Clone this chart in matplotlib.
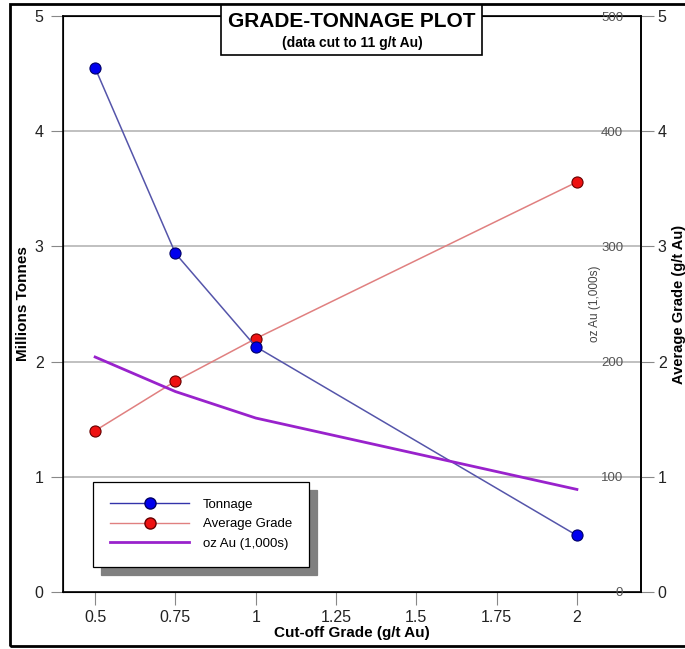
import matplotlib.pyplot as plt
from matplotlib.lines import Line2D
from matplotlib.patches import Rectangle

cutoff = [0.5, 0.75, 1, 2]
tonnage = [4.55, 2.94, 2.13, 0.49]
avg_grade = [1.40, 1.83, 2.20, 3.56]
oz_au = [204, 174, 151, 89]

x_ticks = [0.5, 0.75, 1, 1.25, 1.5, 1.75, 2]
x_ticklabels = ['0.5', '0.75', '1', '1.25', '1.5', '1.75', '2']

plt.rcParams['font.family'] = ['Liberation Sans', 'DejaVu Sans']

fig = plt.figure(figsize=(6.85, 6.49), dpi=100)
ax = fig.add_axes([0.092, 0.088, 0.844, 0.887])

ax.set_xlim(0.4, 2.2)
ax.set_ylim(0, 5)
ax.set_yticks(range(6))
ax.set_xticks(x_ticks)
ax.set_xticklabels(x_ticklabels)
ax.tick_params(axis='both', labelsize=11.5, length=9, color='#888888', labelcolor='#222222')
ax.tick_params(axis='x', pad=4)
ax.tick_params(axis='y', pad=5)
for y in range(1, 5):
    ax.axhline(y, color='#bbbbbb', lw=1.3, zorder=0)
for s in ['left', 'bottom', 'top', 'right']:
    ax.spines[s].set_linewidth(1.2)
ax.set_ylabel('Millions Tonnes', fontsize=11, fontweight='bold', labelpad=3)
ax.set_xlabel('Cut-off Grade (g/t Au)', fontsize=11, fontweight='bold', labelpad=1)

# right axis: average grade
ax_g = ax.twinx()
ax_g.set_ylim(0, 5)
ax_g.set_yticks(range(6))
ax_g.tick_params(axis='y', labelsize=11.5, length=9, color='#888888', labelcolor='#222222', pad=3)
ax_g.spines['right'].set_linewidth(1.2)
ax_g.set_ylabel('Average Grade (g/t Au)', fontsize=10.5, fontweight='bold', labelpad=4)

# inner axis: oz Au
ax_oz = ax.twinx()
ax_oz.set_ylim(0, 500)
ax_oz.set_yticks([0, 100, 200, 300, 400, 500])
ax_oz.yaxis.set_ticks_position('left')
ax_oz.yaxis.set_label_position('left')
ax_oz.spines['left'].set_position(('axes', 1.0))
for s in ax_oz.spines.values():
    s.set_visible(False)
ax_oz.tick_params(axis='y', length=0, labelsize=9.5, labelcolor='#555555', pad=13)
ax_oz.set_ylabel('oz Au (1,000s)', fontsize=8.5, color='#444444', labelpad=0)

ax_oz.plot(cutoff, oz_au, color='#9922cc', lw=2, zorder=2)
ax_g.plot(cutoff, avg_grade, color='#e08080', lw=1.1, marker='o', ms=8,
          mfc='#ee1111', mec='#660000', mew=0.8, zorder=3)
ax_g.plot(cutoff, tonnage, color='#5555aa', lw=1.1, marker='o', ms=8,
          mfc='#0000ee', mec='#000066', mew=0.8, zorder=3)

handles = [
    Line2D([], [], color='#3333aa', lw=1, marker='o', ms=8, mfc='#0000ee', mec='#000066'),
    Line2D([], [], color='#e08080', lw=1, marker='o', ms=8, mfc='#ee1111', mec='#660000'),
    Line2D([], [], color='#9922cc', lw=2),
]
leg = ax_g.legend(handles, ['Tonnage', 'Average Grade', 'oz Au (1,000s)'],
                  loc='lower left', bbox_to_anchor=(0.052, 0.043), borderaxespad=0,
                  fontsize=9.5, handlelength=6.0, handletextpad=1.0, labelspacing=0.55,
                  borderpad=1.3, fancybox=False, edgecolor='black', framealpha=1,
                  shadow={'ox': 6, 'oy': -6, 'color': '#808080', 'alpha': 1})
leg.get_frame().set_linewidth(0.9)

# outer frame
fig.patches.append(Rectangle((0.014, 0.005), 1.2, 0.989, transform=fig.transFigure,
                             fill=False, edgecolor='black', lw=2, zorder=0))

# title box
fig.patches.append(Rectangle((0.323, 0.915), 0.381, 0.078, transform=fig.transFigure,
                             facecolor='white', edgecolor='black', lw=1.2, zorder=10))
fig.text(0.514, 0.967, 'GRADE-TONNAGE PLOT', ha='center', va='center',
         fontsize=15, fontweight='bold', zorder=11)
fig.text(0.514, 0.934, '(data cut to 11 g/t Au)', ha='center', va='center',
         fontsize=10, fontweight='bold', zorder=11)

fig.savefig('out.png', dpi=100)
